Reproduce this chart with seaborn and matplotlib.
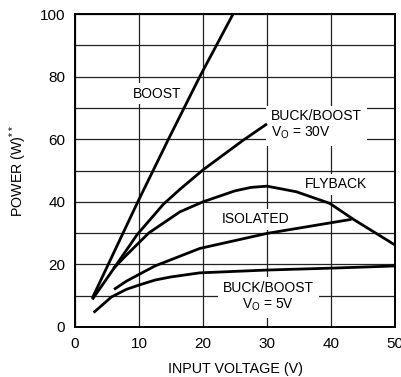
import matplotlib
matplotlib.use("Agg")
import matplotlib.pyplot as plt
import seaborn as sns
import pandas as pd
from matplotlib import font_manager

# ---- data ----
boost_x = [2.7, 9.7, 14.6, 19.5, 24.7]
boost_y = [9.2, 39.5, 60.0, 80.0, 100.0]

bb30_x = [2.7, 6.0, 9.7, 13.8, 16.4, 20.0, 26.3, 30.0]
bb30_y = [8.8, 18.5, 29.5, 39.2, 44.0, 50.2, 59.7, 64.9]

flyback_x = [6.0, 8.0, 11.5, 16.4, 20.0, 25.0, 27.5, 30.0, 34.6, 39.8, 43.5, 50.0]
flyback_y = [18.7, 22.9, 30.0, 36.8, 40.0, 43.5, 44.6, 45.0, 43.2, 39.5, 34.4, 26.2]

isolated_x = [6.1, 8.0, 10.0, 12.5, 19.5, 30.0, 43.2]
isolated_y = [12.0, 14.6, 16.8, 19.5, 25.1, 29.9, 34.4]

bb5_x = [2.9, 5.7, 8.0, 10.0, 12.5, 15.0, 19.5, 30.0, 40.0, 50.0]
bb5_y = [4.6, 9.6, 12.0, 13.4, 15.0, 16.0, 17.3, 18.2, 18.8, 19.5]

x_ticks = [0, 10, 20, 30, 40, 50]
y_ticks = [0, 20, 40, 60, 80, 100]

series = [
    ("BOOST", boost_x, boost_y),
    ("BUCK/BOOST 30V", bb30_x, bb30_y),
    ("FLYBACK", flyback_x, flyback_y),
    ("ISOLATED", isolated_x, isolated_y),
    ("BUCK/BOOST 5V", bb5_x, bb5_y),
]

sns.set_theme(style="white")
names = {f.name for f in font_manager.fontManager.ttflist}
fam = "Liberation Sans Narrow" if "Liberation Sans Narrow" in names else "Liberation Sans"
plt.rcParams["font.family"] = [fam, "DejaVu Sans"]
plt.rcParams["text.color"] = "black"
plt.rcParams["axes.labelcolor"] = "black"

fig = plt.figure(figsize=(4.01, 3.77), dpi=100)
ax = fig.add_axes([75 / 401, 50 / 377, 320 / 401, 313 / 377])

for name, xs, ys in series:
    df = pd.DataFrame({"x": xs, "y": ys})
    sns.lineplot(data=df, x="x", y="y", ax=ax, color="black", linewidth=2.0,
                 sort=False, zorder=3, solid_capstyle="butt", solid_joinstyle="round")

ax.set_xlim(0, 50)
ax.set_ylim(0, 100)
ax.set_xticks(x_ticks)
ax.set_yticks(y_ticks)
ax.set_yticks(range(0, 101, 10), minor=True)
ax.grid(True, which="both", color="#222222", linewidth=0.9)
ax.set_axisbelow(True)
ax.tick_params(axis="both", which="both", length=0, labelsize=11, colors="black", pad=7)
for s in ax.spines.values():
    s.set_color("black")
    s.set_linewidth(1.4)
    s.set_zorder(4)

ax.set_xlabel("INPUT VOLTAGE (V)", fontsize=10.3, labelpad=8, color="black")
ax.set_ylabel(r"POWER (W)$\mathregular{^{**}}$", fontsize=10.3, labelpad=8, color="black")

box = dict(facecolor="white", edgecolor="none", pad=2.5)
fs = 10
ax.text(12.8, 74.5, "BOOST", fontsize=fs, ha="center", va="center", bbox=box, zorder=2, color="black")
ax.text(30.6, 64.5, "BUCK/BOOST\n$\\mathregular{V_O}$ = 30V", fontsize=fs, ha="left", va="center",
        bbox=dict(facecolor="white", edgecolor="none", pad=3.5), linespacing=1.15, zorder=2, color="black")
ax.text(40.8, 45.6, "FLYBACK", fontsize=fs, ha="center", va="center", bbox=box, zorder=2, color="black")
ax.text(28.2, 34.4, "ISOLATED", fontsize=fs, ha="center", va="center", bbox=box, zorder=2, color="black")
ax.text(30.2, 9.6, "BUCK/BOOST\n$\\mathregular{V_O}$ = 5V", fontsize=fs, ha="center", va="center",
        bbox=dict(facecolor="white", edgecolor="none", pad=3.5), linespacing=1.15, zorder=2, color="black")

fig.savefig("out.png", dpi=100)
